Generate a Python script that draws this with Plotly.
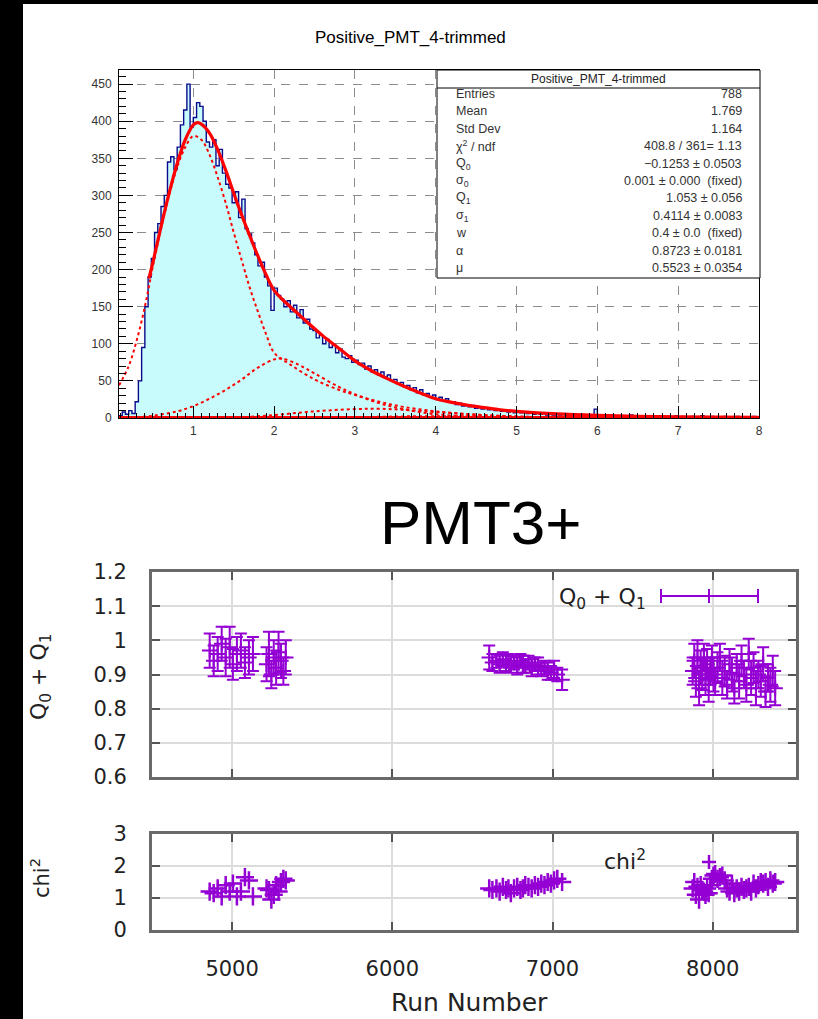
import plotly.graph_objects as go

W, H = 818, 1019
def fx(p): return p / W
def fy(p): return 1 - p / H

# ---------------- ROOT histogram data ----------------
HIST_TITLE = "Positive_PMT_4-trimmed"
BIN_LO = 0.08
BIN_W = 0.04
counts = [
    3, 8, 5, 10, 6, 22, 50, 95, 150, 190,
    215, 250, 262, 285, 300, 345, 352, 335, 365, 395,
    415, 450, 392, 405, 425, 420, 400, 372, 365, 375,
    340, 362, 330, 315, 310, 290, 305, 270, 295, 255,
    248, 236, 220, 205, 210, 190, 178, 145, 175, 165,
    160, 150, 158, 143, 152, 135, 146, 128, 133, 120,
    118, 108, 112, 100, 106, 95, 99, 88, 93, 82,
    80, 84, 75, 78, 72, 74, 66, 70, 62, 65,
    58, 62, 55, 58, 50, 52, 46, 48, 42, 44,
    38, 41, 34, 38, 31, 33, 28, 31, 25, 28,
    23, 26, 21, 22, 18, 20, 16, 18, 15, 17,
    13, 14, 12, 14, 11, 12, 10, 11, 9, 11,
    8, 9, 7, 9, 7, 8, 6, 7, 5, 7,
    5, 6, 4, 6, 4, 5, 4, 5, 3, 4,
    3, 5, 3, 4, 2, 4, 3, 12, 3, 4,
    2, 3, 4, 2, 3, 1, 3, 2, 4, 2,
    1, 3, 2, 2, 0, 3, 1, 2, 2, 1,
    2, 1, 3, 0, 2, 1, 1, 2, 0, 1,
    3, 1, 0, 2, 1, 1, 0, 2, 1, 0,
    1, 2, 0, 1, 1, 0, 2, 1,
]

# fit curves
fit_x = [0.45, 0.5, 0.6, 0.7, 0.8, 0.9, 1.0, 1.05, 1.1, 1.2, 1.3, 1.4, 1.5, 1.6, 1.7, 1.8, 1.9, 2.0,
         2.1, 2.2, 2.4, 2.6, 2.8, 3.0, 3.2, 3.4, 3.6, 3.8, 4.0, 4.2, 4.4, 4.6, 4.8, 5.0, 5.5, 6.0,
         6.5, 7.0, 7.5, 8.0]
fit_y = [188, 210, 258, 303, 343, 375, 395, 398, 396, 384, 362, 334, 303, 273, 245, 218, 193, 172,
         160, 150, 130, 111, 94, 77, 64, 53, 43, 34, 26, 21, 17, 14, 11, 9, 5.5, 3.5,
         2.3, 1.6, 1.1, 0.8]

pe1_x = [0.08, 0.2, 0.3, 0.4, 0.5, 0.6, 0.7, 0.8, 0.9, 1.0, 1.1, 1.2, 1.3, 1.4, 1.5, 1.6, 1.7, 1.8,
         1.9, 2.0, 2.2, 2.5, 2.8, 3.0, 3.3, 3.6, 4.0, 4.5, 5.0, 5.5, 6.0, 7.0, 8.0]
pe1_y = [44, 70, 105, 150, 205, 255, 300, 338, 365, 380, 375, 355, 325, 290, 250, 212, 175, 143,
         113, 88, 72, 52, 38, 31, 22, 15, 9, 4.5, 2, 1, 0.4, 0.1, 0]

pe2_x = [0.08, 0.3, 0.5, 0.8, 1.0, 1.2, 1.4, 1.6, 1.8, 2.0, 2.1, 2.3, 2.5, 2.8, 3.0, 3.3, 3.6, 4.0,
         4.5, 5.0, 5.5, 6.0, 8.0]
pe2_y = [0.3, 1, 3, 9, 16, 26, 38, 52, 68, 79, 80, 72, 60, 42, 32, 20, 12, 5,
         1.8, 0.5, 0.2, 0, 0]

pe3_x = [0.08, 1.0, 1.5, 2.0, 2.5, 3.0, 3.3, 3.6, 4.0, 4.5, 5.0, 5.5, 6.0, 7.0, 8.0]
pe3_y = [0, 0.1, 0.5, 4, 9, 12, 12.5, 11, 8, 4.5, 2, 0.8, 0.2, 0, 0]

pe4_x = [0.08, 2.0, 3.0, 3.5, 4.0, 4.5, 5.0, 5.5, 6.0, 7.0, 8.0]
pe4_y = [0, 0.2, 1, 2, 2.5, 2.3, 1.6, 0.9, 0.4, 0.05, 0]

ped_x = [0.08, 8.0]
ped_y = [0, 0]

stat_labels = ["Entries", "Mean", "Std Dev", "χ<sup>2</sup> / ndf", "Q<sub>0</sub>", "σ<sub>0</sub>",
               "Q<sub>1</sub>", "σ<sub>1</sub>", "w", "α", "μ"]
stat_values = ["788", "1.769", "1.164", "408.8 / 361= 1.13", "−0.1253 ± 0.0503",
               "0.001 ± 0.000  (fixed)", "1.053 ± 0.056", "0.4114 ± 0.0083",
               "0.4 ± 0.0  (fixed)", "0.8723 ± 0.0181", "0.5523 ± 0.0354"]

hist_xticks = [1, 2, 3, 4, 5, 6, 7, 8]
hist_yticks = [0, 50, 100, 150, 200, 250, 300, 350, 400, 450]

# ---------------- gnuplot run data ----------------
PMT_TITLE = "PMT3+"
runs = [4860, 4885, 4910, 4935, 4960, 4985, 5005, 5030, 5055, 5080, 5105, 5130,
        5215, 5230, 5245, 5260, 5275, 5290, 5305, 5320, 5335,
        6605, 6625, 6650, 6670, 6690, 6710, 6725, 6740, 6760, 6780, 6800, 6815,
        6830, 6850, 6870, 6890, 6910, 6930, 6950, 6970, 6990, 7010, 7030, 7060,
        7875, 7885, 7895, 7905, 7915, 7925, 7935, 7945, 7955, 7965, 7975, 7985,
        7995, 8005, 8015, 8030, 8045, 8060, 8075, 8090, 8105, 8120, 8135, 8150,
        8165, 8180, 8195, 8210, 8225, 8240, 8255, 8270, 8285, 8300, 8315, 8330,
        8345, 8360, 8375, 8390]
q_sum = [0.97, 0.94, 0.96, 0.99, 0.95, 0.98, 0.93, 0.96, 0.97, 0.935, 0.95, 0.96,
         0.93, 0.96, 0.90, 0.95, 0.92, 0.965, 0.94, 0.91, 0.95,
         0.95, 0.935, 0.94, 0.93, 0.945, 0.935, 0.94, 0.93, 0.935, 0.925, 0.94, 0.93,
         0.925, 0.935, 0.92, 0.93, 0.925, 0.915, 0.92, 0.91, 0.905, 0.915, 0.90, 0.885,
         0.91, 0.94, 0.88, 0.95, 0.86, 0.92, 0.90, 0.95, 0.89, 0.93, 0.87, 0.91,
         0.94, 0.90, 0.88, 0.92, 0.95, 0.89, 0.91, 0.87, 0.93, 0.90, 0.86, 0.92,
         0.88, 0.94, 0.90, 0.87, 0.96, 0.89, 0.92, 0.86, 0.90, 0.88, 0.93, 0.85,
         0.89, 0.87, 0.91, 0.86]
q_err = [0.05, 0.045, 0.05, 0.05, 0.055, 0.06, 0.045, 0.05, 0.05, 0.045, 0.05, 0.05,
         0.05, 0.065, 0.04, 0.05, 0.05, 0.06, 0.05, 0.04, 0.05,
         0.035, 0.025, 0.02, 0.025, 0.02, 0.025, 0.02, 0.025, 0.02, 0.025, 0.02, 0.025,
         0.02, 0.02, 0.025, 0.02, 0.025, 0.02, 0.02, 0.025, 0.02, 0.025, 0.02, 0.03,
         0.04, 0.05, 0.045, 0.05, 0.05, 0.05, 0.045, 0.04, 0.05, 0.045, 0.05, 0.04,
         0.045, 0.05, 0.04, 0.045, 0.04, 0.05, 0.045, 0.04, 0.045, 0.05, 0.045, 0.04,
         0.05, 0.045, 0.04, 0.05, 0.045, 0.05, 0.045, 0.05, 0.04, 0.045, 0.05, 0.045,
         0.04, 0.05, 0.045, 0.05]
chi2 = [1.2, 1.15, 1.3, 1.05, 1.4, 1.2, 1.45, 1.05, 1.2, 1.65, 1.55, 1.05,
        1.3, 1.25, 0.95, 1.1, 1.4, 1.2, 1.5, 1.6, 1.55,
        1.3, 1.25, 1.3, 1.2, 1.35, 1.25, 1.3, 1.15, 1.3, 1.35, 1.25, 1.3,
        1.4, 1.35, 1.3, 1.4, 1.35, 1.45, 1.4, 1.5, 1.45, 1.55, 1.6, 1.5,
        1.3, 1.5, 1.1, 1.35, 0.95, 1.4, 1.25, 1.2, 1.1, 1.3, 1.15, 1.4,
        1.6, 1.7, 1.75, 1.6, 1.65, 1.7, 1.55, 1.3, 1.2, 1.45, 1.15, 1.3,
        1.2, 1.35, 1.25, 1.3, 1.35, 1.2, 1.45, 1.3, 1.4, 1.5, 1.45, 1.5,
        1.35, 1.55, 1.45, 1.5]

run_ticks = [5000, 6000, 7000, 8000]
q_ticks = [0.6, 0.7, 0.8, 0.9, 1.0, 1.1, 1.2]
q_ticktext = ["0.6", "0.7", "0.8", "0.9", "1", "1.1", "1.2"]
chi_ticks = [0, 1, 2, 3]

PURPLE = "#9400d3"
RED = "#ff0000"
ROOT_FONT = "Liberation Sans, Arial, sans-serif"
GP_FONT = "DejaVu Sans, sans-serif"

# ---------------- figure ----------------
fig = go.Figure()

edges = [BIN_LO + i * BIN_W for i in range(len(counts) + 1)]
fig.add_trace(go.Scatter(x=edges, y=counts + [counts[-1]], mode="lines", line_shape="hv",
                         fill="tozeroy", fillcolor="#c8fbfb",
                         line=dict(color="#0a0a8c", width=1.4),
                         xaxis="x", yaxis="y", hoverinfo="skip"))
for cx, cy in [(pe4_x, pe4_y), (pe3_x, pe3_y), (pe2_x, pe2_y), (pe1_x, pe1_y)]:
    fig.add_trace(go.Scatter(x=cx, y=cy, mode="lines", line_shape="spline",
                             line=dict(color=RED, width=2, dash="dot"),
                             xaxis="x", yaxis="y"))
fig.add_trace(go.Scatter(x=ped_x, y=ped_y, mode="lines",
                         line=dict(color=RED, width=4), xaxis="x", yaxis="y", cliponaxis=False))
fig.add_trace(go.Scatter(x=fit_x, y=fit_y, mode="lines", line_shape="spline",
                         line=dict(color=RED, width=3.2), xaxis="x", yaxis="y"))

# gnuplot panels
fig.add_trace(go.Scatter(x=runs, y=q_sum, mode="markers",
                         marker=dict(symbol="cross-thin", size=11, color=PURPLE,
                                     line=dict(width=2, color=PURPLE)),
                         error_y=dict(type="data", array=q_err, color=PURPLE, thickness=2, width=6),
                         xaxis="x2", yaxis="y2"))
fig.add_trace(go.Scatter(x=runs, y=chi2, mode="markers",
                         marker=dict(symbol="cross-thin", size=13, color=PURPLE,
                                     line=dict(width=2.5, color=PURPLE)),
                         xaxis="x3", yaxis="y3"))

root_tick_font = dict(family=ROOT_FONT, size=12, color="#333")
gp_tick_font = dict(family=GP_FONT, size=21, color="#222")

gp_x_common = dict(range=[4500, 8520], tickvals=run_ticks, ticks="inside", ticklen=8, tickwidth=2,
                   tickcolor="#555", mirror="allticks", showline=True, linecolor="#6a6a6a",
                   linewidth=3, showgrid=True, gridcolor="#dcdcdc", gridwidth=1.5,
                   zeroline=False, domain=[fx(152), fx(796)], automargin=False)

fig.update_layout(
    width=W, height=H, margin=dict(l=0, r=0, t=0, b=0, pad=0, autoexpand=False),
    paper_bgcolor="black", plot_bgcolor="white", showlegend=False,
    xaxis=dict(domain=[fx(119), fx(759)], anchor="y", range=[0.08, 8.0], automargin=False,
               tickvals=hist_xticks, ticks="inside", ticklen=12, tickcolor="black",
               minor=dict(ticks="inside", dtick=0.1, tick0=0, ticklen=5, tickcolor="black", showgrid=False),
               showline=True, linecolor="black", linewidth=1, mirror=True,
               showgrid=True, gridcolor="#8c8c8c", griddash="dash", gridwidth=1,
               zeroline=False, tickfont=root_tick_font, ticklabelstandoff=2),
    yaxis=dict(domain=[fy(418), fy(70)], anchor="x", range=[0, 469], automargin=False,
               tickvals=hist_yticks, ticks="inside", ticklen=14, tickcolor="black",
               minor=dict(ticks="inside", dtick=10, tick0=0, ticklen=7, tickcolor="black", showgrid=False),
               showline=True, linecolor="black", linewidth=1, mirror=True,
               showgrid=True, gridcolor="#8c8c8c", griddash="dash", gridwidth=1,
               zeroline=False, tickfont=root_tick_font, ticklabelstandoff=4),
    xaxis2=dict(anchor="y2", showticklabels=False, **gp_x_common),
    yaxis2=dict(domain=[fy(777), fy(572)], anchor="x2", range=[0.6, 1.2], automargin=False,
                tickvals=q_ticks, ticktext=q_ticktext, ticks="inside", ticklen=8, tickwidth=2,
                tickcolor="#555", mirror="allticks", showline=True, linecolor="#6a6a6a", linewidth=3,
                showgrid=True, gridcolor="#dcdcdc", gridwidth=1.5, zeroline=False,
                tickfont=gp_tick_font, ticklabelstandoff=18),
    xaxis3=dict(anchor="y3", showticklabels=True, tickfont=gp_tick_font, ticklabelstandoff=18,
                **gp_x_common),
    yaxis3=dict(domain=[fy(930), fy(834)], anchor="x3", range=[0, 3], automargin=False,
                tickvals=chi_ticks, ticks="inside", ticklen=8, tickwidth=2,
                tickcolor="#555", mirror="allticks", showline=True, linecolor="#6a6a6a", linewidth=3,
                showgrid=True, gridcolor="#dcdcdc", gridwidth=1.5, zeroline=False,
                tickfont=gp_tick_font, ticklabelstandoff=18),
)

shapes = []
# white canvas over black background
shapes.append(dict(type="rect", xref="paper", yref="paper", x0=fx(23), x1=1.05, y0=-0.05, y1=fy(4),
                   fillcolor="white", line=dict(width=0), layer="below"))
# stats box
shapes.append(dict(type="rect", xref="paper", yref="paper", x0=fx(437), x1=fx(760), y0=fy(278), y1=fy(70),
                   fillcolor="white", line=dict(color="black", width=1), layer="above"))
shapes.append(dict(type="line", xref="paper", yref="paper", x0=fx(437), x1=fx(760), y0=fy(88), y1=fy(88),
                   line=dict(color="black", width=1), layer="above"))
# gnuplot key samples
shapes.append(dict(type="line", xref="paper", yref="paper", x0=fx(661), x1=fx(758), y0=fy(596), y1=fy(596),
                   line=dict(color=PURPLE, width=2)))
for xk in [661, 709, 758]:
    shapes.append(dict(type="line", xref="paper", yref="paper", x0=fx(xk), x1=fx(xk), y0=fy(603), y1=fy(589),
                       line=dict(color=PURPLE, width=2)))
shapes.append(dict(type="line", xref="paper", yref="paper", x0=fx(702), x1=fx(716), y0=fy(862), y1=fy(862),
                   line=dict(color=PURPLE, width=2.5)))
shapes.append(dict(type="line", xref="paper", yref="paper", x0=fx(709), x1=fx(709), y0=fy(855), y1=fy(869),
                   line=dict(color=PURPLE, width=2.5)))
fig.update_layout(shapes=shapes)

ann = []
ann.append(dict(text=HIST_TITLE, x=fx(410), y=fy(37), xref="paper", yref="paper", showarrow=False,
                xanchor="center", yanchor="middle", font=dict(family=ROOT_FONT, size=17, color="black")))
ann.append(dict(text=HIST_TITLE, x=fx(598), y=fy(79), xref="paper", yref="paper", showarrow=False,
                xanchor="center", yanchor="middle", font=dict(family=ROOT_FONT, size=12, color="#222")))
for i, (lab, val) in enumerate(zip(stat_labels, stat_values)):
    yy = fy(94 + 17.4 * i)
    ann.append(dict(text=lab, x=fx(454), y=yy, xref="paper", yref="paper", showarrow=False,
                    xanchor="left", yanchor="middle", font=dict(family=ROOT_FONT, size=12.5, color="#333")))
    ann.append(dict(text=val, x=fx(744), y=yy, xref="paper", yref="paper", showarrow=False,
                    xanchor="right", yanchor="middle", font=dict(family=ROOT_FONT, size=12.5, color="#333")))

ann.append(dict(text=PMT_TITLE, x=fx(481), y=fy(522), xref="paper", yref="paper", showarrow=False,
                xanchor="center", yanchor="middle", font=dict(family=ROOT_FONT, size=62, color="black")))
ann.append(dict(text="Q<sub>0</sub> + Q<sub>1</sub>", x=fx(40), y=fy(677), xref="paper", yref="paper",
                showarrow=False, textangle=-90, xanchor="center", yanchor="middle",
                font=dict(family=GP_FONT, size=22, color="#222")))
ann.append(dict(text="chi<sup>2</sup>", x=fx(40), y=fy(878), xref="paper", yref="paper",
                showarrow=False, textangle=-90, xanchor="center", yanchor="middle",
                font=dict(family=GP_FONT, size=21, color="#222")))
ann.append(dict(text="Run Number", x=fx(469), y=fy(1002), xref="paper", yref="paper", showarrow=False,
                xanchor="center", yanchor="middle", font=dict(family=GP_FONT, size=25, color="#222")))
ann.append(dict(text="Q<sub>0</sub> + Q<sub>1</sub>", x=fx(648), y=fy(598), xref="paper", yref="paper",
                showarrow=False, xanchor="right", yanchor="middle",
                font=dict(family=GP_FONT, size=22, color="#222")))
ann.append(dict(text="chi<sup>2</sup>", x=fx(648), y=fy(860), xref="paper", yref="paper",
                showarrow=False, xanchor="right", yanchor="middle",
                font=dict(family=GP_FONT, size=22, color="#222")))
fig.update_layout(annotations=ann)

fig.write_html("out.html")
